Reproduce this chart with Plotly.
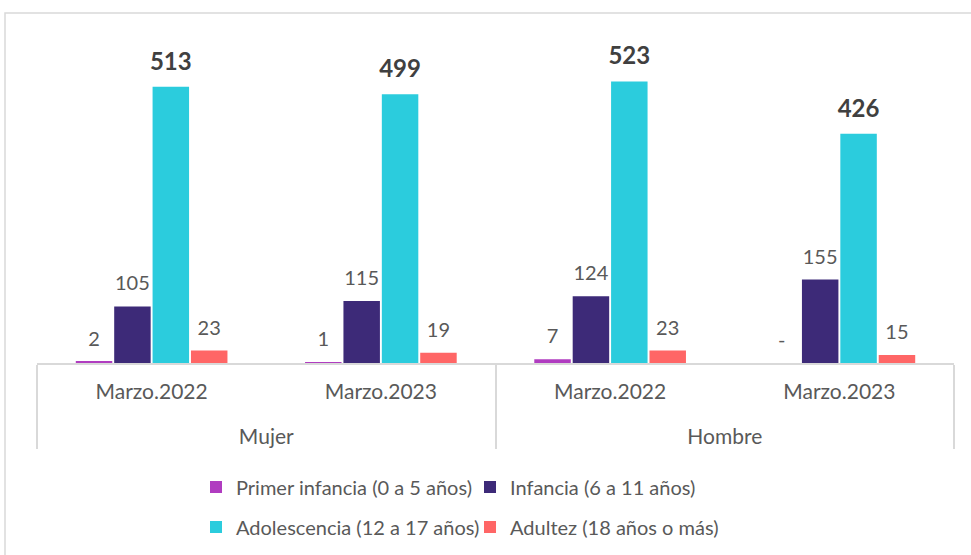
import plotly.graph_objects as go

sexo = ["Mujer", "Mujer", "Hombre", "Hombre"]
periodo = ["Marzo.2022", "Marzo.2023", "Marzo.2022", "Marzo.2023"]

series_names = [
    "Primer infancia (0 a 5 años)",
    "Infancia (6 a 11 años)",
    "Adolescencia (12 a 17 años)",
    "Adultez (18 años o más)",
]
primer_infancia = [2, 1, 7, 0]
infancia = [105, 115, 124, 155]
adolescencia = [513, 499, 523, 426]
adultez = [23, 19, 23, 15]

colors = ["#B03CC0", "#3D2A78", "#2BCCDD", "#FF6666"]
FONT = "Lato"
GRAY = "#595959"


def lab(v):
    return "-" if v == 0 else str(v)


# extra blank line before the outer group label to space the two label rows
outer = ["<br>" + s for s in sexo]
xcat = [outer, periodo]

fig = go.Figure()
all_vals = [primer_infancia, infancia, adolescencia, adultez]
for i, (name, vals, col) in enumerate(zip(series_names, all_vals, colors)):
    fig.add_trace(go.Bar(
        x=xcat,
        y=vals,
        name=name,
        marker=dict(color=col, line=dict(width=0)),
        legend="legend" if i < 2 else "legend2",
        hoverinfo="x+y",
    ))
for i, vals in enumerate(all_vals):
    bold = i == 2
    fig.add_trace(go.Scatter(
        x=xcat,
        y=vals,
        mode="markers+text",
        marker=dict(size=16, color="rgba(0,0,0,0)"),
        text=[lab(v) for v in vals],
        textposition="top center",
        textfont=dict(family=FONT, size=24 if bold else 20,
                      color="#404040" if bold else GRAY,
                      weight="bold" if bold else "normal"),
        showlegend=False,
        hoverinfo="skip",
        cliponaxis=False,
    ))

fig.update_layout(
    width=971, height=555,
    margin=dict(l=37, r=17, t=40, b=192, autoexpand=False),
    paper_bgcolor="white", plot_bgcolor="white",
    barmode="group", bargap=0.33, bargroupgap=0.05,
    scattermode="group", scattergap=0.33,
    font=dict(family=FONT, color=GRAY, size=20),
    showlegend=True,
    legend=dict(orientation="h", x=0.1734, xanchor="left", y=-0.384, yanchor="middle",
                font=dict(size=20, color=GRAY), entrywidth=229, traceorder="normal"),
    legend2=dict(orientation="h", x=0.1734, xanchor="left", y=-0.508, yanchor="middle",
                 font=dict(size=20, color=GRAY), entrywidth=229, traceorder="normal"),
    shapes=[dict(type="rect", xref="paper", yref="paper",
                 x0=-0.0349, x1=1.1, y0=-1.0, y1=1.0836,
                 line=dict(color="#D9D9D9", width=1.5), layer="below")],
)
fig.update_xaxes(
    type="multicategory",
    showline=True, linecolor="#D9D9D9", linewidth=1.5,
    showdividers=True, dividercolor="#D9D9D9", dividerwidth=1.5,
    tickfont=dict(family=FONT, size=21, color=GRAY),
    ticks="", ticklabelstandoff=9,
)
fig.update_yaxes(range=[0, 600], visible=False, showgrid=False)

fig.write_html("out.html", config={"displayModeBar": False},
               post_script="document.body.style.margin='0';")
